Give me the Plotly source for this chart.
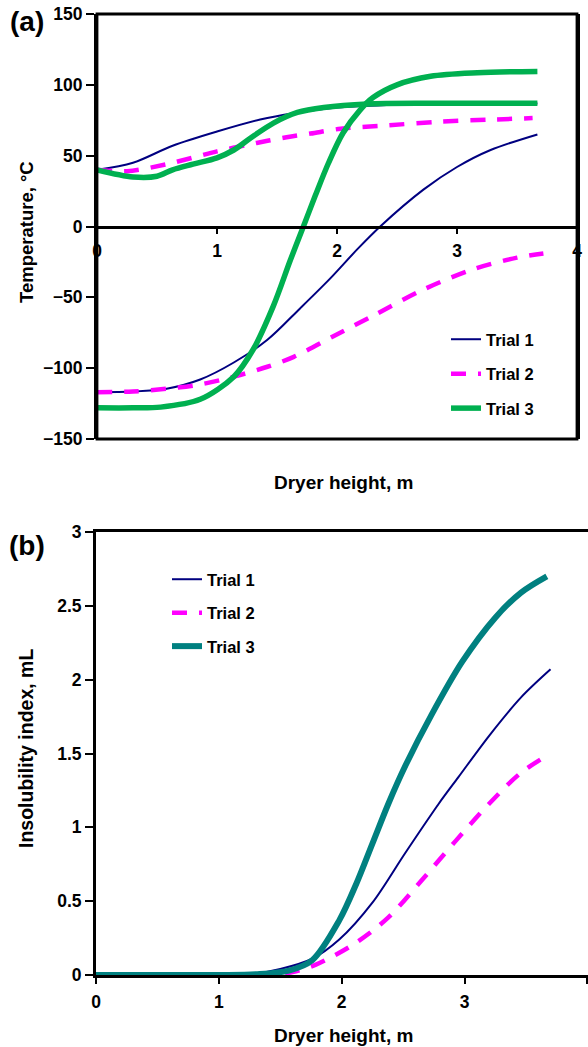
import plotly.graph_objects as go

# ---------------- Panel (a): temperature profiles ----------------
t1_up_x = [0, 0.3, 0.63, 1.0, 1.36, 1.64, 2.0, 2.5, 3.0, 3.67]
t1_up_y = [40, 45, 57, 67, 75.5, 80, 84, 86, 86.5, 86.8]
t1_lo_x = [0, 0.3, 0.58, 0.86, 1.14, 1.42, 1.69, 1.94, 2.17, 2.36, 2.72, 3.0, 3.28, 3.67]
t1_lo_y = [-117, -116.5, -114.5, -108, -96, -80, -58, -37, -16, 0, 26, 42, 54, 65]

t2_up_x = [0, 0.25, 0.58, 1.0, 1.33, 1.58, 1.78, 2.03, 2.36, 2.86, 3.3, 3.63]
t2_up_y = [40, 39, 44, 53, 59, 63, 65.6, 69, 71, 74, 75.5, 76.5]
t2_lo_x = [0, 0.3, 0.58, 0.86, 1.14, 1.42, 1.64, 1.97, 2.3, 2.72, 3.14, 3.5, 3.72]
t2_lo_y = [-117, -116.5, -114.5, -111.5, -106, -99, -92, -77.5, -63, -44.5, -30, -22, -19]

t3_up_x = [0, 0.3, 0.5, 0.63, 0.8, 1.0, 1.14, 1.28, 1.47, 1.67, 1.89, 2.25, 2.8, 3.67]
t3_up_y = [40, 35, 35.5, 40, 44, 48.5, 54, 62.5, 73, 80.5, 84, 86.5, 87, 87]
t3_lo_x = [0, 0.3, 0.53, 0.86, 1.14, 1.3, 1.47, 1.61, 1.72, 1.82, 1.93, 2.05, 2.19, 2.3, 2.5, 2.78, 3.17, 3.67]
t3_lo_y = [-128, -128, -127.5, -122, -106, -87, -56, -24, 0, 22, 45, 66, 82, 91, 100, 106, 108.5, 109.5]

# ---------------- Panel (b): insolubility index ----------------
b1_x = [0, 1.0, 1.3, 1.5, 1.76, 1.98, 2.25, 2.52, 2.79, 2.95, 3.2, 3.46, 3.7]
b1_y = [0, 0, 0.01, 0.04, 0.11, 0.24, 0.49, 0.83, 1.16, 1.34, 1.62, 1.88, 2.07]
b2_x = [0, 1.0, 1.4, 1.6, 1.79, 2.12, 2.38, 2.65, 2.93, 3.2, 3.46, 3.7]
b2_y = [0, 0, 0, 0.02, 0.07, 0.22, 0.39, 0.64, 0.91, 1.16, 1.37, 1.5]
b3_x = [0, 1.0, 1.3, 1.57, 1.76, 1.98, 2.12, 2.25, 2.38, 2.52, 2.73, 2.98, 3.25, 3.46, 3.67]
b3_y = [0, 0, 0.005, 0.03, 0.1, 0.37, 0.62, 0.89, 1.16, 1.42, 1.76, 2.12, 2.42, 2.59, 2.70]

trial_names = ["Trial 1", "Trial 2", "Trial 3"]
x_ticks = [0, 1, 2, 3, 4]
ya_ticks = [-150, -100, -50, 0, 50, 100, 150]
yb_ticks = [0, 0.5, 1, 1.5, 2, 2.5, 3]

NAVY = "#000080"
MAGENTA = "#FF00FF"
GREEN = "#00B050"
TEAL = "#008080"
DASH = "15px,12px"
FONT = "Liberation Sans, Arial, sans-serif"

W, H = 588, 1047


def px(xp):
    return xp / W


def py(yp):
    return 1 - yp / H


fig = go.Figure()

sp = dict(shape="spline", smoothing=0.9)

# panel a traces
fig.add_trace(go.Scatter(x=t1_up_x, y=t1_up_y, mode="lines", name=trial_names[0], legendgroup="a1",
                         line=dict(color=NAVY, width=2, **sp), showlegend=True, xaxis="x", yaxis="y", legend="legend"))
fig.add_trace(go.Scatter(x=t1_lo_x, y=t1_lo_y, mode="lines", name=trial_names[0], legendgroup="a1",
                         line=dict(color=NAVY, width=2, **sp), showlegend=False, xaxis="x", yaxis="y", legend="legend"))
fig.add_trace(go.Scatter(x=t2_up_x, y=t2_up_y, mode="lines", name=trial_names[1], legendgroup="a2",
                         line=dict(color=MAGENTA, width=4.5, dash=DASH, **sp), showlegend=True, xaxis="x", yaxis="y", legend="legend"))
fig.add_trace(go.Scatter(x=t2_lo_x, y=t2_lo_y, mode="lines", name=trial_names[1], legendgroup="a2",
                         line=dict(color=MAGENTA, width=4.5, dash=DASH, **sp), showlegend=False, xaxis="x", yaxis="y", legend="legend"))
fig.add_trace(go.Scatter(x=t3_up_x, y=t3_up_y, mode="lines", name=trial_names[2], legendgroup="a3",
                         line=dict(color=GREEN, width=5.5, **sp), showlegend=True, xaxis="x", yaxis="y", legend="legend"))
fig.add_trace(go.Scatter(x=t3_lo_x, y=t3_lo_y, mode="lines", name=trial_names[2], legendgroup="a3",
                         line=dict(color=GREEN, width=5.5, **sp), showlegend=False, xaxis="x", yaxis="y", legend="legend"))

# panel b traces
fig.add_trace(go.Scatter(x=b1_x, y=b1_y, mode="lines", name=trial_names[0], legendgroup="b1",
                         line=dict(color=NAVY, width=2, **sp), xaxis="x2", yaxis="y2", legend="legend2"))
fig.add_trace(go.Scatter(x=b2_x, y=b2_y, mode="lines", name=trial_names[1], legendgroup="b2",
                         line=dict(color=MAGENTA, width=4.5, dash=DASH, **sp), xaxis="x2", yaxis="y2", legend="legend2"))
fig.add_trace(go.Scatter(x=b3_x, y=b3_y, mode="lines", name=trial_names[2], legendgroup="b3",
                         line=dict(color=TEAL, width=6, **sp), xaxis="x2", yaxis="y2", legend="legend2"))

tickfont = dict(family=FONT, size=17.5, color="black", weight="bold")

a_dom_y = [py(439), py(14)]
b_dom_y = [py(975), py(532)]

common_ax = dict(showgrid=False, zeroline=False, automargin=False, tickfont=tickfont,
                 ticks="outside", tickwidth=1.5, tickcolor="black", linecolor="black")


def label(text, xp, yp, size, angle=0):
    return dict(text=text, x=px(xp), y=py(yp), xref="paper", yref="paper", showarrow=False,
                xanchor="center", yanchor="middle", textangle=angle,
                font=dict(family=FONT, size=size, color="black", weight="bold"))


fig.update_layout(
    template="none",
    width=W, height=H, autosize=False,
    margin=dict(l=0, r=0, t=0, b=0, pad=0),
    paper_bgcolor="white", plot_bgcolor="white",
    showlegend=True,
    xaxis=dict(domain=[px(97), px(577)], range=[0, 4], anchor="free",
               position=(a_dom_y[0] + a_dom_y[1]) / 2,
               tickvals=x_ticks, showline=True, linewidth=2.5,
               ticklen=6, ticklabelstandoff=2, **common_ax),
    yaxis=dict(domain=a_dom_y, range=[-150, 150], anchor="x", tickvals=ya_ticks,
               showline=True, linewidth=3, mirror=True, ticklen=8, **common_ax),
    xaxis2=dict(domain=[px(96), 1.0], range=[0, 4.005], anchor="y2", tickvals=x_ticks,
                showline=True, linewidth=3, mirror=True, ticklen=6, ticklabelstandoff=3, **common_ax),
    yaxis2=dict(domain=b_dom_y, range=[0, 3], anchor="x2", tickvals=yb_ticks,
                showline=True, linewidth=3, ticklen=8, **common_ax),
    legend=dict(x=px(446), y=py(322), xanchor="left", yanchor="top",
                font=dict(family=FONT, size=16.5, color="black", weight="bold"),
                bgcolor="rgba(0,0,0,0)", borderwidth=0, traceorder="grouped", tracegroupgap=10),
    legend2=dict(x=px(167), y=py(562), xanchor="left", yanchor="top",
                 font=dict(family=FONT, size=16.5, color="black", weight="bold"),
                 bgcolor="rgba(0,0,0,0)", borderwidth=0, traceorder="grouped", tracegroupgap=9),
    shapes=[
        dict(type="rect", xref="x domain", yref="y domain", x0=0, x1=1, y0=0, y1=1,
             line=dict(color="black", width=2.8), layer="above"),
    ],
    annotations=[
        label("(a)", 27, 22, 28),
        label("(b)", 27, 545, 28),
        label("Temperature, °C", 26, 232, 18.5, -90),
        label("Dryer height, m", 343, 483, 19),
        label("Insolubility index, mL", 26, 749, 19.5, -90),
        label("Dryer height, m", 343, 1035, 19),
    ],
)

fig.write_html("out.html")
